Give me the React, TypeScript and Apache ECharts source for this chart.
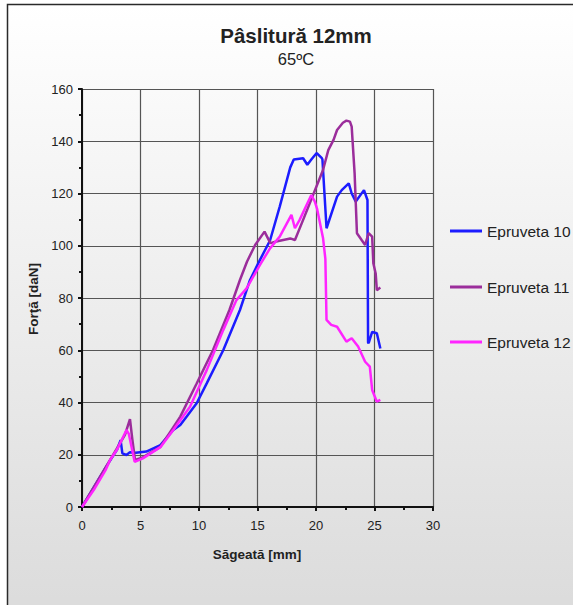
import React, { useEffect, useRef } from "react";
import * as echarts from "echarts";

const seriesNames = ["Epruveta 10", "Epruveta 11", "Epruveta 12"];
const seriesColors = ["#1C1CFF", "#9B2D9B", "#FF24FF"];

const e10X = [0, 1, 2, 3, 3.3, 3.45, 3.8, 4.1, 4.6, 5.5, 6.7, 7.8, 8.4, 8.95, 9.8, 10.66, 12.08, 13.5, 14.36, 15.2, 16.07, 16.9, 17.8, 18.1, 18.9, 19.26, 19.6, 20.06, 20.5, 20.55, 20.9, 21.8, 22.2, 22.8, 23.05, 23.4, 24.1, 24.4, 24.45, 24.5, 24.8, 25.2, 25.5];
const e10Y = [0, 7.5, 15, 22, 25.6, 20.5, 19.9, 21, 20.8, 21.2, 23.7, 29.5, 31.4, 34.6, 39.7, 47.3, 60.1, 75.4, 86.9, 94.5, 102, 115, 130, 133, 133.5, 131, 133, 135.5, 133.5, 133, 106.7, 118.8, 121.3, 123.9, 120, 116.9, 121.3, 117.5, 63, 62.7, 67, 66.5, 60.7];

const e11X = [0, 1, 2, 3, 3.67, 4.1, 4.3, 4.53, 5.2, 6.7, 8.4, 9.8, 11.2, 12.6, 13.5, 14.1, 14.8, 15.6, 16.1, 16.6, 17.8, 18.2, 18.9, 19.8, 20.6, 21.05, 21.5, 21.8, 22.3, 22.6, 22.9, 23.05, 23.3, 23.5, 23.9, 24.2, 24.5, 24.8, 24.9, 25.1, 25.2, 25.5];
const e11Y = [0, 7.5, 15, 22.5, 27.6, 33.6, 26, 18, 19, 23, 34.6, 47.3, 60.1, 75.4, 86.9, 93.9, 100.3, 105.4, 101, 101.6, 102.8, 102.2, 109.9, 120, 129, 136.6, 140.5, 144.3, 147.1, 147.9, 147.5, 145.6, 127.7, 104.8, 102.2, 100.3, 104.8, 103.5, 93.3, 89.4, 83, 84];

const e12X = [0, 1, 2, 2.4, 3, 3.8, 4.0, 4.5, 5.2, 6.7, 7.8, 9.23, 10.66, 12.08, 13.2, 14.07, 15.2, 16.07, 16.9, 17.9, 18.2, 18.6, 19.6, 19.9, 20.1, 20.6, 20.8, 20.9, 21.3, 21.8, 22.6, 23.05, 23.6, 24.2, 24.6, 24.8, 25.2, 25.5];
const e12Y = [0, 6.5, 14, 18, 22, 29.5, 28, 17.3, 18.6, 22.9, 29.5, 38.4, 52.4, 67.8, 79.2, 83.7, 92.6, 99, 103.5, 111.8, 106.7, 109.9, 119.4, 116.9, 114, 103, 95, 71.6, 69.7, 69, 63.3, 64.6, 61.4, 55.6, 53.7, 44.8, 40.3, 41];

const seriesX = [e10X, e11X, e12X];
const seriesY = [e10Y, e11Y, e12Y];

const titleText = "Pâslitură 12mm";
const subtitleText = "65ºC";
const xAxisName = "Săgeată [mm]";
const yAxisName = "Forţă [daN]";

const FONT = "Arial, 'Liberation Sans', sans-serif";

export default function App() {
  const ref = useRef<HTMLDivElement>(null);
  useEffect(() => {
    if (!ref.current) return;
    const chart = echarts.init(ref.current, undefined, { renderer: "svg" });
    const legendTops = [223, 279, 334];
    const option: any = {
      animation: false,
      textStyle: { fontFamily: FONT },
      graphic: [
        {
          type: "rect",
          z: -100,
          silent: true,
          shape: { x: 7.5, y: 4.5, width: 700, height: 700 },
          style: {
            fill: new echarts.graphic.LinearGradient(0, 0, 0, 1, [
              { offset: 0, color: "#ffffff" },
              { offset: 0.85, color: "#dcdcdc" },
              { offset: 1, color: "#dcdcdc" },
            ]),
            stroke: "#2a2a2a",
            lineWidth: 1.5,
          },
        },
        {
          type: "text",
          x: 296,
          y: 35,
          style: { text: titleText, font: `bold 20.5px ${FONT}`, fill: "#222", align: "center", verticalAlign: "middle" },
        },
        {
          type: "text",
          x: 296,
          y: 59,
          style: { text: subtitleText, font: `16.5px ${FONT}`, fill: "#222", align: "center", verticalAlign: "middle" },
        },
        {
          type: "text",
          x: 257,
          y: 554,
          style: { text: xAxisName, font: `bold 13.5px ${FONT}`, fill: "#222", align: "center", verticalAlign: "middle" },
        },
        {
          type: "text",
          x: 33,
          y: 299,
          rotation: Math.PI / 2,
          style: { text: yAxisName, font: `bold 13.5px ${FONT}`, fill: "#222", align: "center", verticalAlign: "middle" },
        },
      ],
      legend: seriesNames.map((n, i) => ({
        data: [n],
        left: 450,
        top: legendTops[i],
        orient: "vertical",
        icon: "rect",
        itemWidth: 32,
        itemHeight: 3,
        itemGap: 4,
        padding: 0,
        textStyle: { fontSize: 15.5, color: "#222", fontFamily: FONT },
      })),
      grid: { left: 82, top: 89, width: 351, height: 418, containLabel: false },
      xAxis: {
        type: "value",
        min: 0,
        max: 30,
        interval: 5,
        axisLine: { show: true, onZero: false, lineStyle: { color: "#111", width: 2 } },
        axisTick: { show: true, length: 4, lineStyle: { color: "#111", width: 2 } },
        minorTick: { show: true, splitNumber: 2, length: 3, lineStyle: { color: "#111", width: 2 } },
        splitLine: { show: true, lineStyle: { color: "#555", width: 1.2 } },
        axisLabel: { margin: 12, fontSize: 13, color: "#222", fontFamily: FONT },
      },
      yAxis: {
        type: "value",
        min: 0,
        max: 160,
        interval: 20,
        axisLine: { show: true, onZero: false, lineStyle: { color: "#111", width: 2 } },
        axisTick: { show: true, length: 4, lineStyle: { color: "#111", width: 2 } },
        minorTick: { show: true, splitNumber: 2, length: 3, lineStyle: { color: "#111", width: 2 } },
        splitLine: { show: true, lineStyle: { color: "#555", width: 1.2 } },
        axisLabel: { margin: 9, fontSize: 13, color: "#222", fontFamily: FONT },
      },
      series: seriesNames.map((n, i) => ({
        name: n,
        type: "line",
        symbol: "none",
        showSymbol: false,
        color: seriesColors[i],
        lineStyle: { color: seriesColors[i], width: 2.5 },
        data: seriesX[i].map((x, j) => [x, seriesY[i][j]]),
      })),
    };
    chart.setOption(option);
    return () => chart.dispose();
  }, []);
  return (
    <div
      ref={ref}
      style={{ position: "absolute", left: 0, top: 0, width: 573, height: 605 }}
    />
  );
}
